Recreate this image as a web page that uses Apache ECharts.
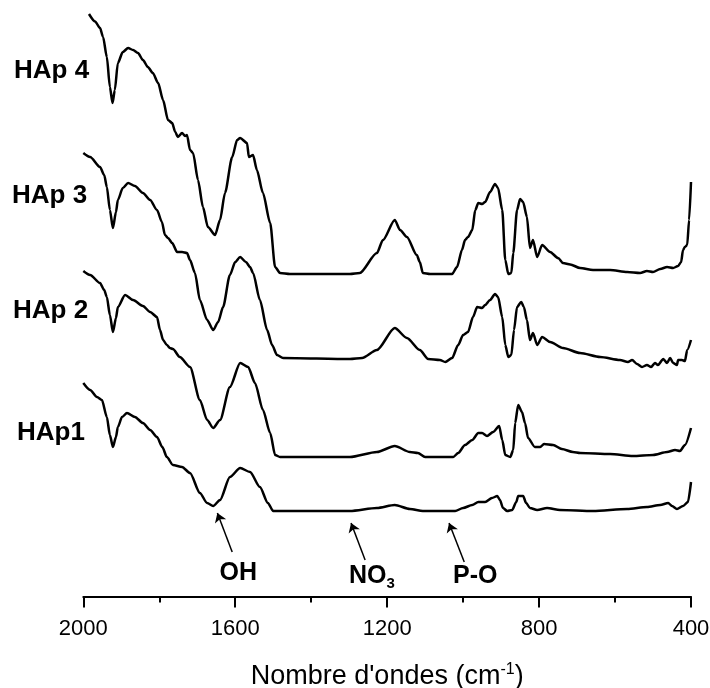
<!DOCTYPE html>
<html><head><meta charset="utf-8">
<script src="https://cdn.jsdelivr.net/npm/echarts@6/dist/echarts.min.js"></script>
<style>html,body{margin:0;padding:0;background:#fff}#c{width:710px;height:688px}</style>
</head><body><div id="c"></div>
<script>
const FONT = '"Liberation Sans", Arial, sans-serif';
const xTickLabels = [2000, 1600, 1200, 800, 400];
const seriesNames = ['HAp 4', 'HAp 3', 'HAp 2', 'HAp1'];
const xTitle = "Nombre d'ondes (cm";

// [wavenumber cm-1, stacked transmittance (a.u.)]
const hap4 = [
[1985,116.5],[1969,115.0],[1956,113.7],[1948,111.9],[1938,107.9],[1930,101.9],[1923,98.7],[1917,101.3],[1909,106.7],[1896,108.9],[1882,109.7],[1869,109.3],[1856,108.7],[1843,107.3],[1830,105.9],[1817,104.7],[1803,102.7],[1790,99.3],[1777,95.3],[1766,94.7],[1758,92.9],[1751,91.9],[1740,92.7],[1732,92.1],[1727,92.3],[1719,89.3],[1711,88.7],[1698,83.3],[1685,77.9],[1672,73.9],[1653,72.3],[1640,75.3],[1627,80.7],[1608,87.9],[1595,91.3],[1587,91.7],[1569,90.7],[1564,87.9],[1553,88.3],[1543,85.3],[1527,80.7],[1508,74.7],[1495,65.9],[1482,64.7],[1456,64.5],
[1298,64.5],[1272,64.7],[1227,68.7],[1211,71.3],[1180,75.3],[1166,73.3],[1148,71.9],[1122,68.3],[1114,66.9],[1106,64.7],[1087,64.5],[1029,64.5],[1016,65.9],[1003,69.3],[995,71.3],[987,71.9],[976,73.3],[968,77.3],[960,78.7],[950,78.5],[942,78.9],[929,80.9],[916,82.5],[908,81.7],[897,77.3],[889,67.3],[881,64.5],[873,64.7],[868,68.7],[858,77.3],[850,79.5],[842,78.9],[832,75.9],[824,69.7],[816,71.3],[805,67.9],[792,70.3],[771,68.9],[750,67.7],[737,66.7],[718,66.4],[692,65.7],[658,65.3],[613,65.3],[568,64.9],[534,64.7],[516,65.1],[500,64.9],[481,65.5],[463,65.9],[447,65.7],[434,66.1],[426,66.9],[421,69.3],[416,69.9],[410,70.3],[405,75.3],[400,82.9]
];
const hap3 = [
[2000,88.7],[1982,87.9],[1956,85.9],[1945,84.3],[1938,81.9],[1930,77.3],[1922,73.7],[1914,76.9],[1909,79.3],[1896,81.7],[1882,82.7],[1864,82.1],[1843,80.7],[1824,79.3],[1806,77.3],[1793,74.9],[1785,72.3],[1777,71.7],[1766,70.7],[1753,68.9],[1740,68.9],[1727,68.7],[1719,67.3],[1706,64.7],[1693,59.3],[1674,55.3],[1658,53.3],[1645,54.9],[1632,57.9],[1614,64.3],[1600,66.9],[1587,67.9],[1572,66.9],[1561,65.9],[1553,64.7],[1535,59.3],[1516,53.3],[1503,50.3],[1490,48.3],[1474,47.7],
[1298,47.5],[1266,47.7],[1227,49.3],[1180,53.7],[1148,51.7],[1114,49.3],[1092,47.5],[1061,47.3],[1047,46.9],[1029,47.7],[1013,50.3],[1000,52.3],[987,52.9],[974,55.9],[963,57.9],[950,57.7],[942,58.3],[929,59.3],[916,60.5],[908,59.9],[897,55.9],[889,50.3],[881,47.9],[873,48.3],[866,53.3],[858,57.9],[847,58.9],[840,57.9],[832,55.3],[824,51.3],[816,52.7],[805,50.3],[792,51.9],[771,50.9],[737,49.7],[692,48.7],[639,47.9],[587,47.3],[566,46.9],[555,47.3],[542,46.5],[529,45.9],[516,46.3],[505,45.9],[495,46.7],[487,46.3],[473,47.5],[463,46.7],[455,47.7],[447,46.7],[437,46.3],[434,47.3],[424,47.3],[416,47.1],[410,49.3],[400,51.3]
];
const hap2 = [
[2000,65.1],[1982,64.3],[1956,62.7],[1945,61.3],[1938,59.9],[1930,56.3],[1922,52.9],[1914,55.7],[1909,57.9],[1890,60.3],[1869,59.3],[1843,58.1],[1824,56.9],[1806,55.9],[1798,53.3],[1790,51.3],[1780,50.3],[1772,49.7],[1764,49.5],[1746,47.9],[1719,45.9],[1693,39.3],[1674,35.3],[1658,33.7],[1640,35.3],[1614,41.9],[1587,46.7],[1566,45.9],[1548,42.7],[1527,37.3],[1508,32.7],[1495,28.3],[1482,27.9],
[1298,27.9],[1227,28.9],[1180,30.1],[1140,28.9],[1119,28.7],[1100,27.9],[1026,27.9],[1013,28.7],[995,30.3],[976,31.3],[960,32.7],[950,32.7],[937,32.1],[921,32.9],[905,34.1],[897,31.3],[889,28.3],[876,27.9],[868,29.3],[863,34.7],[855,38.3],[845,36.9],[837,34.7],[829,31.7],[811,29.9],[797,29.9],[787,30.5],[763,30.3],[740,29.5],[711,28.9],[692,28.7],[613,28.5],[553,28.1],[500,28.3],[463,28.9],[442,29.3],[429,29.1],[416,30.3],[400,33.7]
];
const hap1 = [
[2000,42.7],[1982,41.3],[1964,39.9],[1951,39.3],[1938,35.9],[1930,32.3],[1922,29.9],[1914,31.9],[1909,33.9],[1898,35.9],[1885,36.7],[1864,35.9],[1843,34.7],[1824,33.3],[1806,31.9],[1792,29.9],[1780,27.9],[1764,26.3],[1740,25.9],[1719,24.7],[1693,20.7],[1674,18.7],[1658,18.1],[1640,19.3],[1614,23.9],[1587,25.7],[1561,24.9],[1535,21.9],[1514,18.7],[1500,17.1],[1482,17.1],
[1298,17.1],[1227,17.7],[1180,18.3],[1140,17.5],[1106,17.1],[1021,17.1],[1000,17.7],[976,18.3],[960,18.9],[942,18.9],[924,19.7],[910,20.1],[903,19.3],[895,17.7],[884,17.1],[871,17.3],[860,18.9],[855,20.1],[842,20.1],[834,18.7],[824,17.7],[805,17.3],[779,17.7],[745,17.3],[658,17.1],[568,17.5],[516,17.9],[481,18.3],[460,18.7],[450,18.1],[437,17.5],[421,18.1],[408,18.9],[400,22.9]
];

// band annotations: label, arrow from [wn, y] to [wn, y], label anchor [wn, y]
const bandLabels = ['OH', 'NO', 'P-O'];
const bandArrowFrom = [[1608, 8.9], [1258, 7.3], [997, 6.9]];
const bandArrowTo = [[1647, 16.7], [1295, 14.7], [1037, 14.7]];
const bandLabelAt = [[1592, 4.7], [1240, 4.1], [968, 4.1]];

const chart = echarts.init(document.getElementById('c'), null, {renderer: 'canvas'});
const spectra = [hap4, hap3, hap2, hap1];

const series = spectra.map((d, i) => ({
  name: seriesNames[i], type: 'line', data: d, showSymbol: false,
  smooth: 0.25, smoothMonotone: 'x',
  lineStyle: {color: '#000', width: 2.5}, silent: true
}));
series.push({
  type: 'line', data: [], silent: true,
  markLine: {
    silent: true, symbol: ['none', 'arrow'], symbolSize: 9,
    lineStyle: {color: '#000', width: 1.5, type: 'solid'},
    label: {show: false},
    data: bandArrowFrom.map((f, i) => [{coord: f}, {coord: bandArrowTo[i]}])
  }
});

chart.setOption({
  animation: false,
  backgroundColor: '#fff',
  grid: {left: 83.3, right: 19, top: 0, bottom: 91.5, containLabel: false, outerBoundsMode: 'none'},
  xAxis: {
    type: 'value', inverse: true, min: 400, max: 2000, interval: 400,
    axisLine: {show: true, lineStyle: {color: '#000', width: 2}},
    axisTick: {show: true, length: 11, lineStyle: {color: '#000', width: 2}},
    minorTick: {show: true, splitNumber: 2, length: 6, lineStyle: {color: '#000', width: 2}},
    splitLine: {show: false},
    axisLabel: {color: '#000', fontSize: 22, fontFamily: FONT, margin: 21,
      formatter: v => xTickLabels.includes(v) ? String(v) : ''},
    name: '{a|' + xTitle + '}{s|-1}{a|)}', nameLocation: 'middle', nameGap: 65,
    nameTextStyle: {rich: {
      a: {fontSize: 27, fontFamily: FONT, color: '#000', lineHeight: 30},
      s: {fontSize: 16, fontFamily: FONT, color: '#000', lineHeight: 16, verticalAlign: 'top'}
    }}
  },
  yAxis: {type: 'value', show: false, min: 0, max: 119.3},
  series: series
});

// text labels
const graphics = [];
const sampleLabelPos = [[14, 73], [12, 198], [13, 313], [17, 435]];
seriesNames.forEach((n, i) => {
  graphics.push({type: 'text', left: sampleLabelPos[i][0], top: sampleLabelPos[i][1] - 15,
    style: {text: n, font: 'bold 26px ' + FONT, fill: '#000'}});
});
bandLabelAt.forEach((p, i) => {
  const px = chart.convertToPixel({gridIndex: 0}, p);
  let text = bandLabels[i];
  let rich = {};
  if (i === 1) {
    text = '{a|NO}{b|3}';
    rich = {a: {font: 'bold 25px ' + FONT, lineHeight: 30, fill: '#000'},
            b: {font: 'bold 15px ' + FONT, lineHeight: 14, verticalAlign: 'bottom', fill: '#000'}};
  }
  graphics.push({type: 'text', x: px[0], y: px[1],
    style: {text: text, rich: rich, font: 'bold 25px ' + FONT, fill: '#000', align: 'center', verticalAlign: 'middle'}});
});
chart.setOption({graphic: graphics});
</script>
</body></html>
